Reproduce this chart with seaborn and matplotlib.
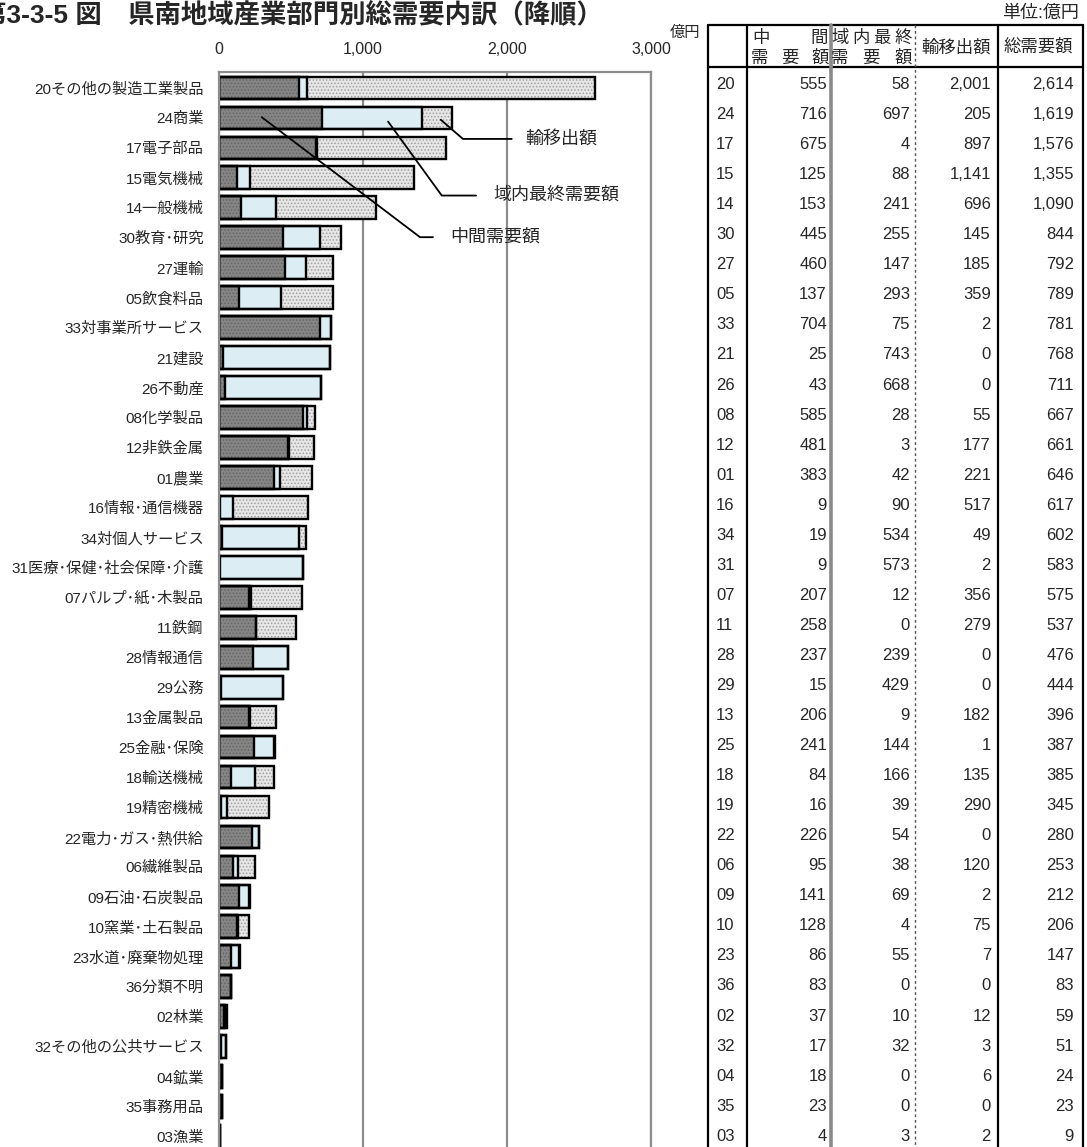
import matplotlib
matplotlib.use("Agg")
import matplotlib.pyplot as plt
import pandas as pd
import seaborn as sns

# Industry sectors, sorted by total demand (descending)
codes = ["20", "24", "17", "15", "14", "30", "27", "05", "33", "21", "26", "08",
         "12", "01", "16", "34", "31", "07", "11", "28", "29", "13", "25", "18",
         "19", "22", "06", "09", "10", "23", "36", "02", "32", "04", "35", "03"]
names = ["その他の製造工業製品", "商業", "電子部品", "電気機械", "一般機械", "教育･研究",
         "運輸", "飲食料品", "対事業所サービス", "建設", "不動産", "化学製品",
         "非鉄金属", "農業", "情報･通信機器", "対個人サービス", "医療･保健･社会保障･介護",
         "パルプ･紙･木製品", "鉄鋼", "情報通信", "公務", "金属製品", "金融･保険",
         "輸送機械", "精密機械", "電力･ガス･熱供給", "繊維製品", "石油･石炭製品",
         "窯業･土石製品", "水道･廃棄物処理", "分類不明", "林業", "その他の公共サービス",
         "鉱業", "事務用品", "漁業"]
# 中間需要額 / 域内最終需要額 / 輸移出額 / 総需要額 (億円)
intermediate = [555, 716, 675, 125, 153, 445, 460, 137, 704, 25, 43, 585,
                481, 383, 9, 19, 9, 207, 258, 237, 15, 206, 241, 84,
                16, 226, 95, 141, 128, 86, 83, 37, 17, 18, 23, 4]
final_domestic = [58, 697, 4, 88, 241, 255, 147, 293, 75, 743, 668, 28,
                  3, 42, 90, 534, 573, 12, 0, 239, 429, 9, 144, 166,
                  39, 54, 38, 69, 4, 55, 0, 10, 32, 0, 0, 3]
exports = [2001, 205, 897, 1141, 696, 145, 185, 359, 2, 0, 0, 55,
           177, 221, 517, 49, 2, 356, 279, 0, 0, 182, 1, 135,
           290, 0, 120, 2, 75, 7, 0, 12, 3, 6, 0, 2]
total_demand = [2614, 1619, 1576, 1355, 1090, 844, 792, 789, 781, 768, 711, 667,
                661, 646, 617, 602, 583, 575, 537, 476, 444, 396, 387, 385,
                345, 280, 253, 212, 206, 147, 83, 59, 51, 24, 23, 9]
x_ticks = [0, 1000, 2000, 3000]

sns.set_theme(style="white")
plt.rcParams["font.family"] = ["Liberation Sans", "Noto Sans CJK JP"]
plt.rcParams["hatch.linewidth"] = 0.7

labels = [c + n for c, n in zip(codes, names)]
df = pd.DataFrame({"label": labels, "mid": intermediate,
                   "dom": final_domestic, "exp": exports})
df["mid_dom"] = df["mid"] + df["dom"]
df["all"] = df["mid_dom"] + df["exp"]

W, H = 1087, 1147
fig = plt.figure(figsize=(W / 100, H / 100), dpi=100)
ax = fig.add_axes([219 / W, 0, 432 / W, (H - 72) / H])

GRID = "#8c8c8c"
BAR_W = 0.76

# Stacked bars drawn as overlapping cumulative totals
fills = [("all", "#e6e6e6", "#a0a0a0", "....."),
         ("mid_dom", "#dcedf4", "none", None),
         ("mid", "#858585", "#666666", ".....")]
for col, face, hcol, hatch in fills:
    kw = {"edgecolor": hcol}
    if hatch:
        kw["hatch"] = hatch
    sns.barplot(data=df, x=col, y="label", order=labels, orient="h",
                color=face, saturation=1, width=BAR_W, linewidth=0,
                errorbar=None, ax=ax, **kw)
for col in ["all", "mid_dom", "mid"]:
    sns.barplot(data=df, x=col, y="label", order=labels, orient="h",
                fill=False, color="black", linewidth=1.7, width=BAR_W,
                errorbar=None, ax=ax)

ax.set_xlim(0, 3000)
ax.set_ylim(35.35, -0.534)
ax.set_xlabel("")
ax.set_ylabel("")
ax.xaxis.tick_top()
ax.set_xticks(x_ticks)
ax.set_xticklabels([f"{t:,}" for t in x_ticks], fontsize=11.5)
ax.tick_params(axis="x", length=0, pad=11)
ax.tick_params(axis="y", length=0, pad=11, labelsize=11)
ax.grid(axis="x", color=GRID, linewidth=1.6)
ax.set_axisbelow(True)
for side in ["top", "left", "right"]:
    ax.spines[side].set_color(GRID)
    ax.spines[side].set_linewidth(1.6)
ax.spines["bottom"].set_visible(False)

# Leader lines for the three components
callouts = [
    ([1540, 1694, 2033], [1.06, 1.70, 1.70], "輸移出額", 2125),
    ([1174, 1547, 1785], [1.12, 3.59, 3.59], "域内最終需要額", 1903),
    ([297, 1396, 1486], [0.975, 4.98, 4.98], "中間需要額", 1604),
]
for xs, ys, txt, tx in callouts:
    ax.plot(xs, ys, color="black", linewidth=1.3, clip_on=False, zorder=5)
    ax.text(tx, ys[-1], txt, fontsize=13, va="center", ha="left", zorder=5)

# Overlay in pixel coordinates for titles and the data table
ov = fig.add_axes([0, 0, 1, 1])
ov.set_xlim(0, W)
ov.set_ylim(H, 0)
ov.set_facecolor("none")
ov.axis("off")

ov.text(-20, 15, "第3-3-5 図　県南地域産業部門別総需要内訳（降順）",
        fontsize=19, fontweight="bold", ha="left", va="center")
ov.text(1079, 13, "単位:億円", fontsize=13, ha="right", va="center")
ov.text(700, 33, "億円", fontsize=11, ha="right", va="center")

# Table frame
left, right, top, head = 708, 1083, 25, 66.5
seps = [747, 831, 915, 998]
ov.plot([left, right], [top, top], color="black", lw=1.6)
ov.plot([left, right], [head, head], color="black", lw=1.6)
ov.plot([left, left], [top, H], color="black", lw=1.6)
ov.plot([right, right], [top, H], color="black", lw=1.6)
ov.plot([seps[0], seps[0]], [top, H], color="black", lw=1.6)
ov.plot([seps[1], seps[1]], [top, H], color="#8a8a8a", lw=2.6)
ov.plot([seps[2], seps[2]], [top, H], color="#555555", lw=1.0, ls=(0, (2, 2)))
ov.plot([seps[3], seps[3]], [top, H], color="black", lw=1.6)

# Header cells
hfs = 12.5
ov.text(752, 38, "中", fontsize=hfs, ha="left", va="center")
ov.text(828, 38, "間", fontsize=hfs, ha="right", va="center")
for x, ch in zip([760, 790, 820], "需要額"):
    ov.text(x, 58, ch, fontsize=hfs, ha="center", va="center")
for x, ch in zip([840, 861, 882, 903], "域内最終"):
    ov.text(x, 38, ch, fontsize=hfs, ha="center", va="center")
for x, ch in zip([840, 871, 903], "需要額"):
    ov.text(x, 58, ch, fontsize=hfs, ha="center", va="center")
ov.text(956, 47, "輸移出額", fontsize=hfs, ha="center", va="center")
ov.text(1038, 47, "総需要額", fontsize=hfs, ha="center", va="center")

# Body cells
tfs = 12
for i, code in enumerate(codes):
    y = 84.5 + 30.05 * i
    ov.text(716, y, code, fontsize=tfs, ha="left", va="center")
    ov.text(827, y, f"{intermediate[i]:,}", fontsize=tfs, ha="right", va="center")
    ov.text(910, y, f"{final_domestic[i]:,}", fontsize=tfs, ha="right", va="center")
    ov.text(991, y, f"{exports[i]:,}", fontsize=tfs, ha="right", va="center")
    ov.text(1074, y, f"{total_demand[i]:,}", fontsize=tfs, ha="right", va="center")

fig.savefig("out.png", dpi=100)
